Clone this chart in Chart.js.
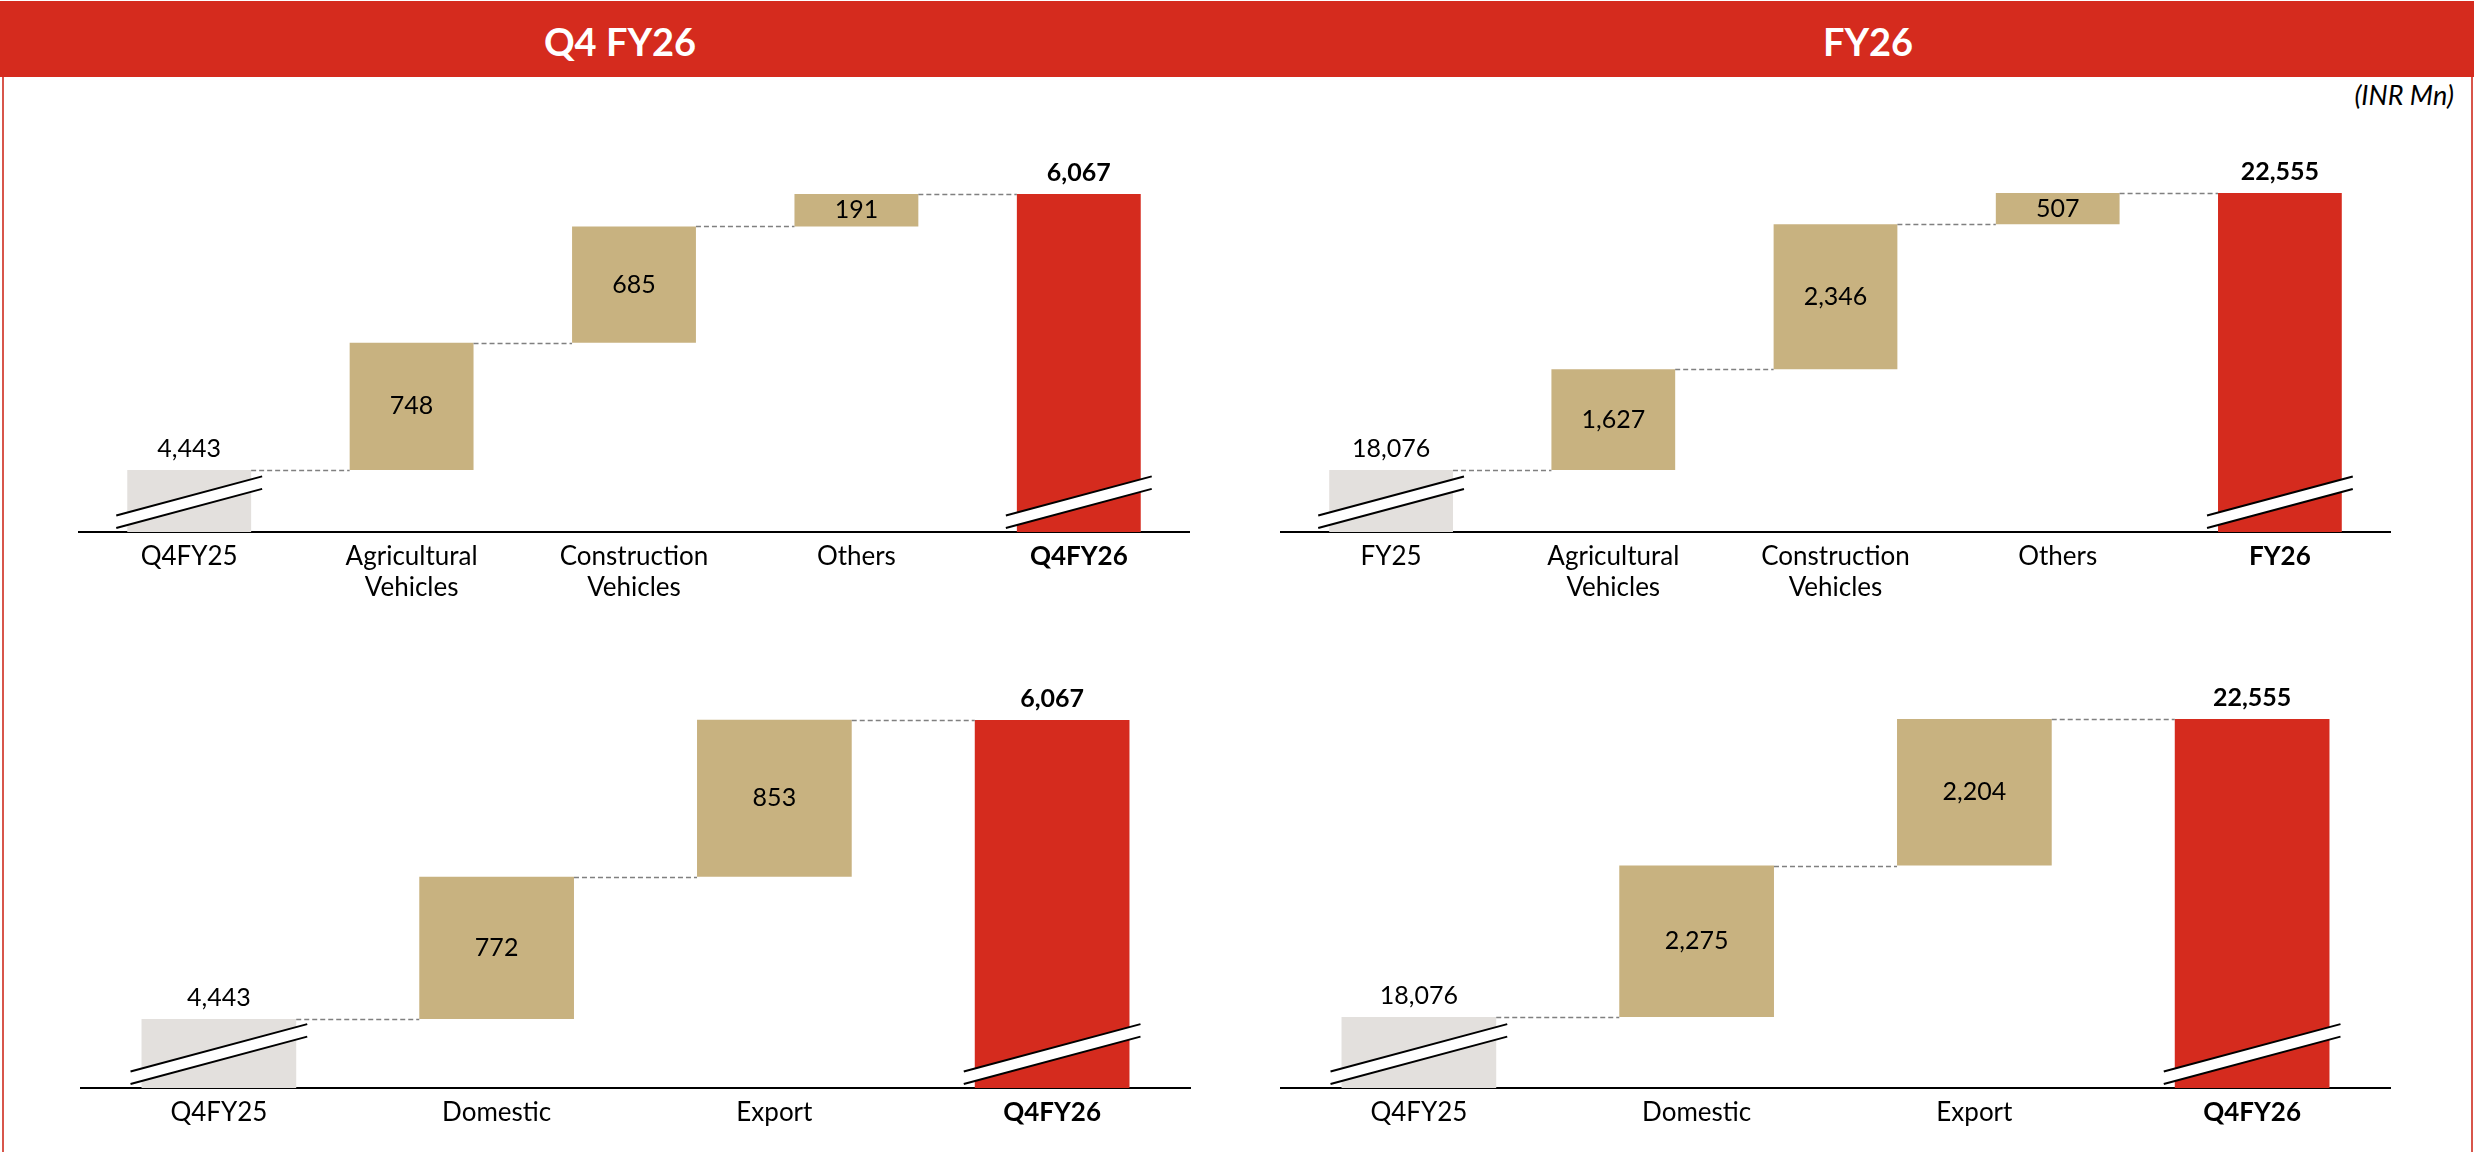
<!DOCTYPE html>
<html>
<head>
<meta charset="utf-8">
<script src="https://cdn.jsdelivr.net/npm/chart.js@4.4.1/dist/chart.umd.min.js"></script>
<style>
  html, body { margin: 0; padding: 0; background: #fff; }
  body { width: 2474px; height: 1152px; position: relative; overflow: hidden; font-family: Lato, "Open Sans", sans-serif; }
  .band { position: absolute; left: 0; top: 1px; width: 2474px; height: 76px; background: #D52B1E; }
  .band-title { position: absolute; top: 0; height: 76px; line-height: 80px; color: #fff; font-weight: bold; font-size: 38px; transform: translateX(-50%); white-space: nowrap; }
  .edge { position: absolute; top: 77px; bottom: 0; width: 2px; background: #D8564B; }
  .unit { position: absolute; right: 20px; top: 80px; font-style: italic; font-size: 27px; line-height: 30px; color: #000; }
  canvas { position: absolute; }
</style>
</head>
<body>
  <div class="band">
    <div class="band-title" style="left:620px">Q4 FY26</div>
    <div class="band-title" style="left:1868px">FY26</div>
  </div>
  <div class="edge" style="left:2px"></div>
  <div class="edge" style="left:2471px"></div>
  <div class="unit">(INR Mn)</div>

  <canvas id="q4Segment" width="1112" height="492" style="left:78px; top:120px"></canvas>
  <canvas id="fySegment" width="1111" height="492" style="left:1280px; top:120px"></canvas>
  <canvas id="q4Market" width="1111" height="508" style="left:80px; top:660px"></canvas>
  <canvas id="fyMarket" width="1111" height="508" style="left:1280px; top:660px"></canvas>

<script>
const RED = '#D52B1E';
const TAN = '#C8B280';
const GREY = '#E3E0DD';
const FONT = 'Lato, "Open Sans", sans-serif';

// Q4 FY26, bridge by business segment
const q4SegLabels = ['Q4FY25', ['Agricultural', 'Vehicles'], ['Construction', 'Vehicles'], 'Others', 'Q4FY26'];
const q4SegValues = [4443, 748, 685, 191, 6067];
const q4SegRange = [4078, 6326];

// FY26, bridge by business segment
const fySegLabels = ['FY25', ['Agricultural', 'Vehicles'], ['Construction', 'Vehicles'], 'Others', 'FY26'];
const fySegValues = [18076, 1627, 2346, 507, 22555];
const fySegRange = [17073, 23250];

// Q4 FY26, bridge by market
const q4MktLabels = ['Q4FY25', 'Domestic', 'Export', 'Q4FY26'];
const q4MktValues = [4443, 772, 853, 6067];
const q4MktRange = [4068, 6230];

// FY26, bridge by market
const fyMktLabels = ['Q4FY25', 'Domestic', 'Export', 'Q4FY26'];
const fyMktValues = [18076, 2275, 2204, 22555];
const fyMktRange = [17009, 22990];

// opening and closing bars stand on the (broken) axis, the steps float on the running total
function toFloating(values, base) {
  const out = [[base, values[0]]];
  let run = values[0];
  for (let i = 1; i < values.length - 1; i++) {
    out.push([run, run + values[i]]);
    run += values[i];
  }
  out.push([base, values[values.length - 1]]);
  return out;
}

const fmt = v => v.toLocaleString('en-US');

// dashed connectors, axis break marks and value labels
const waterfallDecor = {
  id: 'waterfallDecor',
  afterDatasetsDraw(chart) {
    const ctx = chart.ctx;
    const bars = chart.getDatasetMeta(0).data;
    const raw = chart.data.datasets[0].data;
    const values = chart.options.plugins.waterfallDecor.values;
    const yScale = chart.scales.y;
    const axisY = chart.chartArea.bottom;
    const last = bars.length - 1;

    ctx.save();
    // connectors between bars at the running total
    ctx.strokeStyle = '#808080';
    ctx.lineWidth = 1.5;
    ctx.setLineDash([5, 3]);
    for (let i = 0; i < last; i++) {
      const level = raw[i][1];
      const y = Math.round(yScale.getPixelForValue(level)) + 0.5;
      ctx.beginPath();
      ctx.moveTo(bars[i].x + bars[i].width / 2, y);
      ctx.lineTo(bars[i + 1].x - bars[i + 1].width / 2, y);
      ctx.stroke();
    }
    ctx.setLineDash([]);

    // break marks across the opening and closing bars
    [0, last].forEach(i => {
      const b = bars[i];
      const w = b.width + 22;
      const x0 = b.x - w / 2, x1 = b.x + w / 2;
      const rise = w * 0.268;
      const yb = axisY - 4, gap = 12.5;
      ctx.beginPath();
      ctx.moveTo(x0, yb);
      ctx.lineTo(x1, yb - rise);
      ctx.lineTo(x1, yb - rise - gap);
      ctx.lineTo(x0, yb - gap);
      ctx.closePath();
      ctx.fillStyle = '#fff';
      ctx.fill();
      ctx.strokeStyle = '#000';
      ctx.lineWidth = 2;
      ctx.beginPath();
      ctx.moveTo(x0, yb); ctx.lineTo(x1, yb - rise);
      ctx.moveTo(x0, yb - gap); ctx.lineTo(x1, yb - rise - gap);
      ctx.stroke();
    });

    // value labels
    ctx.fillStyle = '#000';
    ctx.textAlign = 'center';
    bars.forEach((b, i) => {
      const text = fmt(values[i]);
      if (i === 0 || i === last) {
        ctx.font = (i === last ? 'bold ' : '') + '25px ' + FONT;
        ctx.textBaseline = 'alphabetic';
        ctx.fillText(text, b.x, b.y - 13);
      } else {
        ctx.font = '25px ' + FONT;
        ctx.textBaseline = 'middle';
        ctx.fillText(text, b.x, (b.y + b.base) / 2);
      }
    });
    ctx.restore();
  }
};

function drawBridge(id, labels, values, range) {
  const last = labels.length - 1;
  const colors = labels.map((_, i) => i === 0 ? GREY : (i === last ? RED : TAN));
  new Chart(document.getElementById(id), {
    type: 'bar',
    data: {
      labels: labels,
      datasets: [{
        data: toFloating(values, range[0]),
        backgroundColor: colors,
        borderWidth: 0,
        categoryPercentage: 1,
        barPercentage: 0.557
      }]
    },
    options: {
      responsive: false,
      animation: false,
      layout: { padding: { top: 30, left: 0, right: 0, bottom: 0 } },
      plugins: {
        legend: { display: false },
        tooltip: { enabled: false },
        waterfallDecor: { values: values }
      },
      scales: {
        x: {
          grid: { display: false, drawTicks: false },
          border: { display: true, color: '#000', width: 2 },
          ticks: {
            color: '#000',
            padding: 10,
            autoSkip: false,
            maxRotation: 0,
            font: c => ({ family: FONT, size: 26, lineHeight: 1.16, weight: c.index === last ? 'bold' : 'normal' })
          },
          afterFit(scale) { scale.height = 80; }
        },
        y: {
          display: false,
          min: range[0],
          max: range[1]
        }
      }
    },
    plugins: [waterfallDecor]
  });
}

drawBridge('q4Segment', q4SegLabels, q4SegValues, q4SegRange);
drawBridge('fySegment', fySegLabels, fySegValues, fySegRange);
drawBridge('q4Market', q4MktLabels, q4MktValues, q4MktRange);
drawBridge('fyMarket', fyMktLabels, fyMktValues, fyMktRange);
</script>
</body>
</html>
